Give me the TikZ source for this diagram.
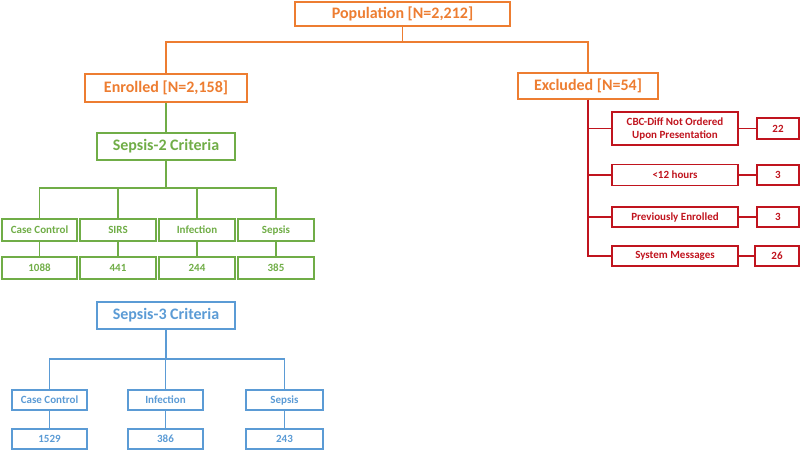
\documentclass[tikz,border=0pt]{standalone}
\usepackage{fontspec}
\setmainfont{Carlito}
\definecolor{cOr}{RGB}{237,125,49}
\definecolor{cGr}{RGB}{112,173,71}
\definecolor{cBl}{RGB}{91,155,213}
\definecolor{cRd}{RGB}{192,20,30}
\begin{document}
\begin{tikzpicture}[x=1pt,y=-1pt,
  box/.style={draw,line width=1.8pt,inner sep=0pt,font=\bfseries,align=center},
  big/.style={box,font=\fontsize{16}{18}\selectfont\bfseries},
  sml/.style={box,font=\fontsize{11}{13}\selectfont\bfseries},
  orb/.style={big,draw=cOr,text=cOr},
  grb/.style={big,draw=cGr,text=cGr},
  gr/.style={sml,draw=cGr,text=cGr,minimum height=22pt},
  blb/.style={big,draw=cBl,text=cBl},
  bl/.style={sml,draw=cBl,text=cBl,minimum height=20pt},
  rd/.style={sml,draw=cRd,text=cRd,minimum height=20pt},
  ln/.style={line width=1.7pt}]
\useasboundingbox (0,0) rectangle (800,451);
% top
\node[orb,minimum width=215pt,minimum height=24pt] (pop) at (402.5,14) {Population [N=2,212]};
\node[orb,minimum width=162pt,minimum height=28pt] (enr) at (166,88) {Enrolled [N=2,158]};
\node[orb,minimum width=140pt,minimum height=26pt] (exc) at (588,86) {Excluded [N=54]};
\coordinate (j1) at (402.5,42);
\draw[ln,cOr] (pop.south) -- (j1);
\draw[ln,cOr] (j1) -| (enr.north);
\draw[ln,cOr] (j1) -| (exc.north);
% sepsis-2
\node[grb,minimum width=138pt,minimum height=27pt] (s2) at (166,146.5) {Sepsis-2 Criteria};
\draw[ln,cGr] (enr.south) -- (s2.north);
\node[gr,minimum width=75pt] (a1) at (39.5,230) {Case Control};
\node[gr,minimum width=76pt] (a2) at (118,230) {SIRS};
\node[gr,minimum width=76pt] (a3) at (197,230) {Infection};
\node[gr,minimum width=76pt] (a4) at (276,230) {Sepsis};
\node[gr,minimum width=75pt] (b1) at (39.5,268) {1088};
\node[gr,minimum width=76pt] (b2) at (118,268) {441};
\node[gr,minimum width=76pt] (b3) at (197,268) {244};
\node[gr,minimum width=76pt] (b4) at (276,268) {385};
\coordinate (j2) at (166,188);
\draw[ln,cGr] (s2.south) -- (j2);
\foreach \i in {1,...,4}{
  \draw[ln,cGr] (j2) -| (a\i.north);
  \draw[ln,cGr] (a\i.south) -- (b\i.north);
}
% sepsis-3
\node[blb,minimum width=138pt,minimum height=27pt] (s3) at (166,315.5) {Sepsis-3 Criteria};
\node[bl,minimum width=75pt] (c1) at (49.5,400) {Case Control};
\node[bl,minimum width=75pt] (c2) at (165.5,400) {Infection};
\node[bl,minimum width=77pt] (c3) at (284.5,400) {Sepsis};
\node[bl,minimum width=75pt] (d1) at (49.5,439) {1529};
\node[bl,minimum width=75pt] (d2) at (165.5,439) {386};
\node[bl,minimum width=77pt] (d3) at (284.5,439) {243};
\coordinate (j3) at (166,359);
\draw[ln,cBl] (s3.south) -- (j3);
\foreach \i in {1,...,3}{
  \draw[ln,cBl] (j3) -| (c\i.north);
  \draw[ln,cBl] (c\i.south) -- (d\i.north);
}
% excluded
\node[rd,minimum width=126pt,minimum height=33pt] (e1) at (675,128.5) {CBC-Diff Not Ordered\\Upon Presentation};
\node[rd,minimum width=126pt,minimum height=21pt] (e2) at (675,175) {<12 hours};
\node[rd,minimum width=126pt] (e3) at (675,217) {Previously Enrolled};
\node[rd,minimum width=126pt] (e4) at (675,256) {System Messages};
\node[rd,minimum width=42pt,minimum height=21pt] (f1) at (778,128.5) {22};
\node[rd,minimum width=42pt] (f2) at (778,175) {3};
\node[rd,minimum width=42pt] (f3) at (778,217) {3};
\node[rd,minimum width=44pt] (f4) at (777,256) {26};
\foreach \i in {1,...,4}{
  \draw[ln,cRd] (exc.south) |- (e\i.west);
  \draw[ln,cRd] (e\i.east) -- (f\i.west);
}
\end{tikzpicture}
\end{document}
